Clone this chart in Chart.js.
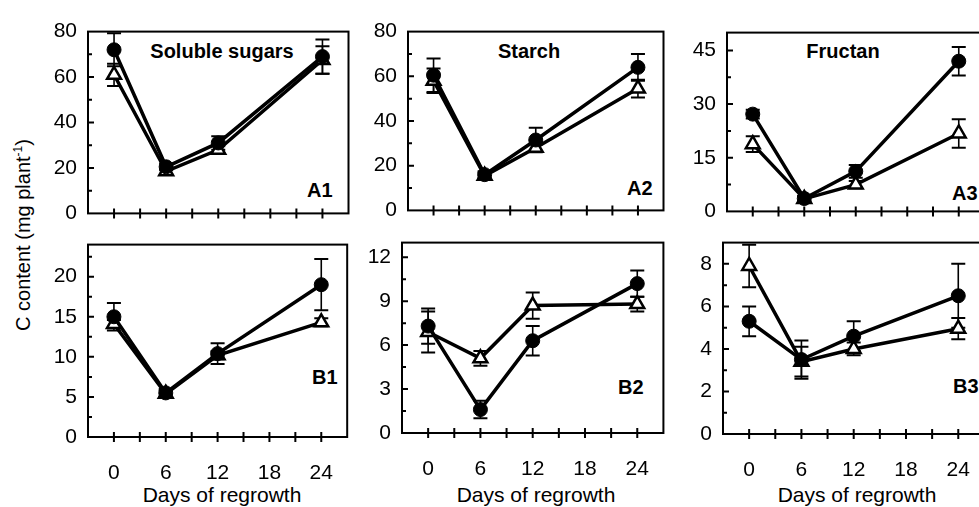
<!DOCTYPE html>
<html><head><meta charset="utf-8">
<script src="https://cdn.jsdelivr.net/npm/chart.js@4.4.1/dist/chart.umd.min.js"></script>
<style>
html,body{margin:0;padding:0;background:#fff;width:979px;height:507px;overflow:hidden;position:relative;font-family:Arial,"Liberation Sans",sans-serif;color:#000}
canvas{position:absolute}
.t{position:absolute;white-space:nowrap;line-height:1;transform:translate(-50%,-50%)}
.ttl{font-weight:bold;font-size:20px}
.ax{font-size:21px}
.pl{position:absolute;white-space:nowrap;line-height:1;font-weight:bold;font-size:20px;transform:translateY(-50%)}
sup{font-size:12px;line-height:0;vertical-align:super}
</style></head><body>
<div class="t ttl" style="left:222px;top:51px">Soluble sugars</div>
<div class="t ttl" style="left:529px;top:51px">Starch</div>
<div class="t ttl" style="left:843px;top:51px">Fructan</div>
<div class="pl" style="left:307px;top:190px">A1</div>
<div class="pl" style="left:627px;top:188px">A2</div>
<div class="pl" style="left:952px;top:193px">A3</div>
<div class="pl" style="left:312px;top:377px">B1</div>
<div class="pl" style="left:618px;top:387px">B2</div>
<div class="pl" style="left:953px;top:386px">B3</div>
<div class="t ax" style="left:222px;top:494px">Days of regrowth</div>
<div class="t ax" style="left:536px;top:494px">Days of regrowth</div>
<div class="t ax" style="left:857px;top:494px">Days of regrowth</div>
<div class="t" style="left:23px;top:235px;font-size:20px;transform:translate(-50%,-50%) rotate(-90deg)">C content (mg plant<sup>-1</sup>)</div>
<script>
// ---- data ----
const days = [0, 6, 12, 24];
const xTickLabels = [0, 6, 12, 18, 24];

const a1Filled = [72, 20.5, 31, 69];
const a1FilledErr = [7.3, 1.5, 3, 7.5];
const a1Open = [61, 18.5, 28, 67.5];
const a1OpenErr = [4.9, 1, 1.5, 6];

const a2Filled = [60.5, 16, 31.5, 64];
const a2FilledErr = [7.5, 1.5, 5.5, 6];
const a2Open = [58, 15.5, 28, 54.5];
const a2OpenErr = [5.5, 1.5, 1.5, 4];

const a3Filled = [27.2, 3.6, 11.2, 42];
const a3FilledErr = [1.2, 0.8, 1.8, 4];
const a3Open = [18.8, 3.5, 7.5, 21.8];
const a3OpenErr = [2.2, 0.8, 1, 4];

const b1Filled = [15, 5.5, 10.4, 19];
const b1FilledErr = [1.7, 0.5, 1.3, 3.2];
const b1Open = [14.1, 5.4, 10.2, 14.3];
const b1OpenErr = [0.5, 0.4, 0.5, 0.5];

const b2Filled = [7.3, 1.6, 6.3, 10.2];
const b2FilledErr = [1.2, 0.6, 1.0, 0.9];
const b2Open = [6.9, 5.1, 8.7, 8.8];
const b2OpenErr = [1.4, 0.5, 0.9, 0.5];

const b3Filled = [5.3, 3.5, 4.6, 6.5];
const b3FilledErr = [0.7, 0.9, 0.7, 1.5];
const b3Open = [7.9, 3.4, 4.0, 4.95];
const b3OpenErr = [1.0, 0.7, 0.3, 0.5];

const a1YTicks = [0, 20, 40, 60, 80];
const a2YTicks = [0, 20, 40, 60, 80];
const a3YTicks = [0, 15, 30, 45];
const b1YTicks = [0, 5, 10, 15, 20];
const b2YTicks = [0, 3, 6, 9, 12];
const b3YTicks = [0, 2, 4, 6, 8];

// ---- layout (pixels of each panel's plot frame) ----
const panels = [
  {L:88,  R:353, T:22,  B:223, yMax:80, yTicks:a1YTicks, minor:10,  f:a1Filled, fe:a1FilledErr, o:a1Open, oe:a1OpenErr, xl:false},
  {L:408, R:668, T:22,  B:220, yMax:80, yTicks:a2YTicks, minor:10,  f:a2Filled, fe:a2FilledErr, o:a2Open, oe:a2OpenErr, xl:false},
  {L:727, R:989, T:23,  B:221, yMax:50, yTicks:a3YTicks, minor:7.5, f:a3Filled, fe:a3FilledErr, o:a3Open, oe:a3OpenErr, xl:false},
  {L:88,  R:352, T:235, B:437, yMax:24, yTicks:b1YTicks, minor:2.5, f:b1Filled, fe:b1FilledErr, o:b1Open, oe:b1OpenErr, xl:true},
  {L:402, R:668, T:233, B:433, yMax:13, yTicks:b2YTicks, minor:1.5, f:b2Filled, fe:b2FilledErr, o:b2Open, oe:b2OpenErr, xl:true},
  {L:723, R:989, T:233, B:434, yMax:9,  yTicks:b3YTicks, minor:1,   f:b3Filled, fe:b3FilledErr, o:b3Open, oe:b3OpenErr, xl:true}
];

const FONT = {family: 'Arial, "Liberation Sans", sans-serif', size: 21};

const errPlugin = {
  id: 'errbars',
  beforeDatasetsDraw(chart) {
    const ctx = chart.ctx, xs = chart.scales.x, ys = chart.scales.y;
    chart.data.datasets.forEach(ds => {
      ds.data.forEach((pt, i) => {
        const e = ds.err[i];
        const x = xs.getPixelForValue(pt.x);
        const y1 = ys.getPixelForValue(pt.y + e), y2 = ys.getPixelForValue(pt.y - e);
        ctx.save();
        ctx.strokeStyle = '#000';
        ctx.lineWidth = 1.6;
        ctx.beginPath(); ctx.moveTo(x, y1); ctx.lineTo(x, y2); ctx.stroke();
        ctx.lineWidth = 2;
        ctx.beginPath();
        ctx.moveTo(x - 7, y1); ctx.lineTo(x + 7, y1);
        ctx.moveTo(x - 7, y2); ctx.lineTo(x + 7, y2);
        ctx.stroke();
        ctx.restore();
      });
    });
  }
};

const framePlugin = {
  id: 'frame',
  afterDraw(chart, args, opts) {
    const ctx = chart.ctx, a = chart.chartArea, xs = chart.scales.x, ys = chart.scales.y;
    ctx.save();
    ctx.strokeStyle = '#000';
    ctx.lineWidth = 2;
    ctx.strokeRect(a.left, a.top, a.right - a.left, a.bottom - a.top);
    ctx.beginPath();
    for (let v = 0; v <= 24; v += 3) {
      const x = xs.getPixelForValue(v);
      ctx.moveTo(x, a.bottom - 5); ctx.lineTo(x, a.bottom + 5);
    }
    const p = opts.panel;
    for (let v = p.minor; v < p.yMax; v += p.minor) {
      const y = ys.getPixelForValue(v);
      const major = p.yTicks.some(t => Math.abs(t - v) < 1e-6);
      ctx.moveTo(a.left, y); ctx.lineTo(a.left + (major ? 6 : 4), y);
    }
    ctx.stroke();
    ctx.restore();
  }
};

function makePanel(p) {
  const yW = 60, padT = 14, padR = 6, xH = p.xl ? 50 : 14;
  const w = p.R - p.L + yW + padR, h = p.B - p.T + padT + xH;
  const c = document.createElement('canvas');
  c.width = w; c.height = h;
  c.style.left = (p.L - yW) + 'px'; c.style.top = (p.T - padT) + 'px';
  c.style.width = w + 'px'; c.style.height = h + 'px';
  document.body.appendChild(c);
  new Chart(c, {
    type: 'line',
    data: {datasets: [
      {data: days.map((d, i) => ({x: d, y: p.f[i]})), err: p.fe,
       borderColor: '#000', borderWidth: 3.5, tension: 0, fill: false,
       pointStyle: 'circle', pointRadius: 7, pointBackgroundColor: '#000',
       pointBorderColor: '#000', pointBorderWidth: 1},
      {data: days.map((d, i) => ({x: d, y: p.o[i]})), err: p.oe,
       borderColor: '#000', borderWidth: 3.5, tension: 0, fill: false,
       pointStyle: 'triangle', pointRadius: 8, pointBackgroundColor: '#fff',
       pointBorderColor: '#000', pointBorderWidth: 2.5}
    ]},
    options: {
      responsive: false, animation: false, events: [], devicePixelRatio: 1,
      layout: {padding: {top: padT, right: padR, left: 0, bottom: 0}},
      plugins: {legend: {display: false}, tooltip: {enabled: false}, frame: {panel: p}},
      scales: {
        x: {type: 'linear', min: -3, max: 27,
            afterBuildTicks: s => { s.ticks = xTickLabels.map(v => ({value: v})); },
            afterFit: s => { s.height = xH; },
            grid: {display: false, drawTicks: false}, border: {display: false},
            ticks: {display: p.xl, font: FONT, color: '#000', padding: 24, maxRotation: 0, autoSkip: false}},
        y: {type: 'linear', min: 0, max: p.yMax,
            afterBuildTicks: s => { s.ticks = p.yTicks.map(v => ({value: v})); },
            afterFit: s => { s.width = yW; },
            grid: {display: false, drawTicks: false}, border: {display: false},
            ticks: {font: FONT, color: '#000', padding: 11, autoSkip: false}}
      }
    },
    plugins: [errPlugin, framePlugin]
  });
}
panels.forEach(makePanel);
</script>
</body></html>
